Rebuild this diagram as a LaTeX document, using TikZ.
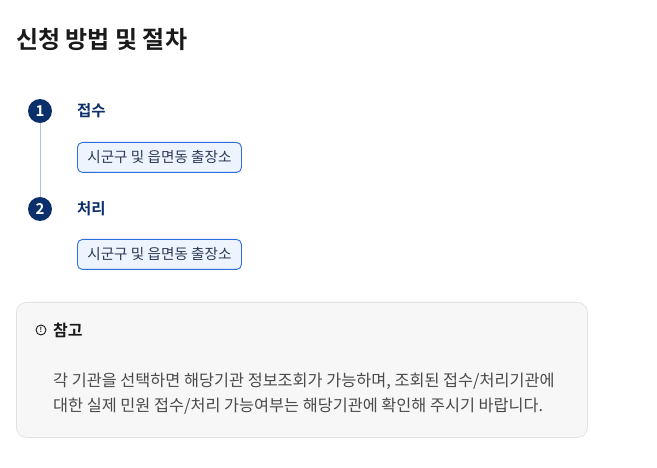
\documentclass[tikz,border=0pt]{standalone}
\usepackage{fontspec}
\setmainfont{Noto Sans CJK KR}
\newfontfamily\krbold{Noto Sans CJK KR Bold}
\definecolor{navy}{HTML}{0B2F6B}
\definecolor{stepline}{HTML}{B5C4DC}
\definecolor{tagborder}{HTML}{2E6FE0}
\definecolor{tagfill}{HTML}{EEF4FE}
\definecolor{tagtext}{HTML}{2B3A55}
\definecolor{notefill}{HTML}{F7F7F7}
\definecolor{noteborder}{HTML}{E2E2E2}
\definecolor{bodytext}{HTML}{4A4A4A}
\definecolor{titletext}{HTML}{1A1A1A}
\begin{document}
\begin{tikzpicture}[x=1pt,y=-1pt,
  stepnum/.style={circle,fill=navy,text=white,minimum size=24pt,inner sep=0pt,font=\krbold\fontsize{15}{15}\selectfont},
  steplabel/.style={anchor=west,text=navy,font=\krbold\fontsize{15.5}{18}\selectfont,inner sep=0pt},
  tagbox/.style={draw=tagborder,fill=tagfill,rounded corners=5pt,line width=0.9pt,text=tagtext,
    minimum width=164pt,minimum height=30pt,inner sep=0pt,anchor=north west,font=\fontsize{14.6}{17}\selectfont},
  notebox/.style={draw=noteborder,fill=notefill,rounded corners=10pt,line width=0.8pt,
    minimum width=571pt,minimum height=135pt,anchor=north west,inner sep=0pt},
  bodyline/.style={anchor=west,text=bodytext,inner sep=0pt,font=\fontsize{16.3}{19}\selectfont}]
\useasboundingbox (0,0) rectangle (657,468);
\node[anchor=west,inner sep=0pt,text=titletext,font=\krbold\fontsize{24}{28}\selectfont] (title) at (16,40) {신청 방법 및 절차};
\node[stepnum] (s1) at (40,111) {1};
\node[stepnum] (s2) at (40,209) {2};
\draw[stepline,line width=1pt] (s1) -- (s2);
\node[steplabel] (l1) at (77,111) {접수};
\node[steplabel] (l2) at (77,209) {처리};
\node[tagbox] (t1) at (77,142) {시군구 및 읍면동 출장소};
\node[tagbox] (t2) at (77,239) {시군구 및 읍면동 출장소};
\node[notebox] (note) at (16,302) {};
\node[circle,draw=titletext,line width=0.9pt,minimum size=10pt,inner sep=0pt] (icon) at (41,330) {};
\node[inner sep=0pt,text=titletext,font=\krbold\fontsize{7}{7}\selectfont] (iconmark) at (icon) {!};
\node[anchor=west,inner sep=0pt,text=titletext,font=\krbold\fontsize{16}{18}\selectfont] (notetitle) at (53,330) {참고};
\node[bodyline] (b1) at (53,381) {각 기관을 선택하면 해당기관 정보조회가 가능하며, 조회된 접수/처리기관에};
\node[bodyline] (b2) at (53,406) {대한 실제 민원 접수/처리 가능여부는 해당기관에 확인해 주시기 바랍니다.};
\end{tikzpicture}
\end{document}
